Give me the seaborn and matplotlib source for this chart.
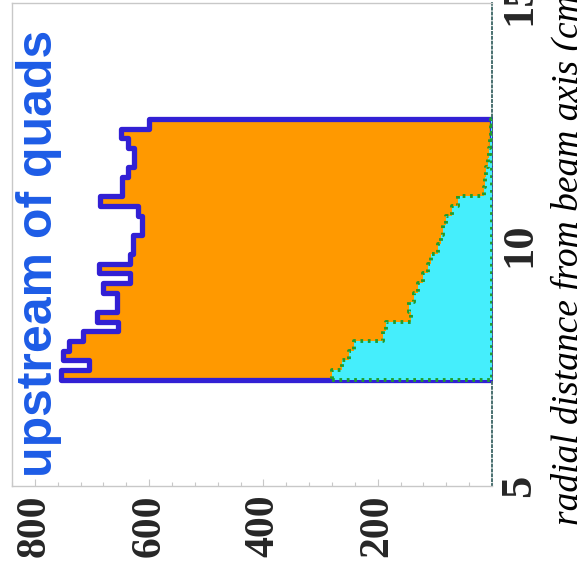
import numpy as np
import pandas as pd
import matplotlib
matplotlib.use("Agg")
import matplotlib.pyplot as plt
from matplotlib.ticker import MultipleLocator
import seaborn as sns

# ---- data ----
bin_edges = [7.2, 7.4, 7.6, 7.8, 8.0, 8.2, 8.4, 8.6, 8.8, 9.0, 9.2, 9.4, 9.6, 9.8,
             10.0, 10.2, 10.4, 10.6, 10.8, 11.0, 11.2, 11.4, 11.6, 11.8, 12.0, 12.2,
             12.4, 12.6]
radial_centers = [7.3, 7.5, 7.7, 7.9, 8.1, 8.3, 8.5, 8.7, 8.9, 9.1, 9.3, 9.5, 9.7,
                  9.9, 10.1, 10.3, 10.5, 10.7, 10.9, 11.1, 11.3, 11.5, 11.7, 11.9,
                  12.1, 12.3, 12.5]
upstream_all = [755, 705, 750, 740, 716, 654, 691, 656, 656, 680, 633, 688, 633,
                628, 628, 612, 612, 619, 686, 647, 647, 637, 626, 626, 637, 650, 600]
upstream_cut = [280, 262, 250, 242, 191, 185, 142, 146, 137, 130, 121, 112, 107,
                95, 90, 86, 80, 70, 60, 14, 12, 10, 7, 5, 3, 2, 1]
count_ticks = [200, 400, 600, 800]
count_labels = ["200", "400", "600", "800"]
radial_ticks = [5, 10, 15]
radial_labels = ["5", "10", "15"]
title_text = "radial distance from beam axis (cm)"
label_text = "upstream of quads"

ORANGE = "#ff9900"
BLUE = "#3220d4"
CYAN = "#45eefc"
GREEN = "#1f9e2c"
TEXT_BLUE = "#1d5ce6"
GRAY = "#c8c8c8"

sns.set_style("white")

W, H = 577, 575
fig = plt.figure(figsize=(W / 100, H / 100), dpi=100)
ax = fig.add_axes([12 / W, 1 - 486 / H, 480 / W, 483 / H])

df = pd.DataFrame({"radial": radial_centers, "all": upstream_all, "cut": upstream_cut})

sns.histplot(data=df, y="radial", weights="all", bins=bin_edges, element="step",
             fill=True, facecolor=ORANGE, edgecolor=BLUE, linewidth=3.8, alpha=1,
             ax=ax, zorder=2)
sns.histplot(data=df, y="radial", weights="cut", bins=bin_edges, element="step",
             fill=True, facecolor=CYAN, edgecolor=GREEN, linewidth=2.8,
             linestyle=(0, (0.7, 1.2)), alpha=1, ax=ax, zorder=3)

ax.set_xlim(840, 0)
ax.set_ylim(5, 15)
ax.set_xlabel("")
ax.set_ylabel("")

# bottom (count) axis
ax.set_xticks(count_ticks)
ax.set_xticklabels(count_labels, rotation=90, fontfamily="Liberation Serif",
                   fontweight="bold", fontsize=30, va="top", ha="center")
ax.xaxis.set_minor_locator(MultipleLocator(40))
ax.tick_params(axis="x", which="major", direction="in", length=5, width=0.8,
               color=GRAY, pad=6, top=False, bottom=True)
ax.tick_params(axis="x", which="minor", direction="in", length=3, width=0.8,
               color=GRAY, top=False, bottom=True)

# right (radial) axis
ax.yaxis.tick_right()
ax.set_yticks(radial_ticks)
ax.set_yticklabels(radial_labels, rotation=90, fontfamily="Liberation Serif",
                   fontweight="bold", fontsize=32, va="center", ha="left")
ax.tick_params(axis="y", which="both", length=0, pad=5, left=False, right=True)

for side in ["top", "left", "bottom"]:
    ax.spines[side].set_color(GRAY)
    ax.spines[side].set_linewidth(1.0)
ax.spines["right"].set_color("#4a7070")
ax.spines["right"].set_linestyle((0, (1, 1.5)))
ax.spines["right"].set_linewidth(1.4)

# texts
fig.text(52 / W, 1 - 477 / H, label_text, rotation=90, rotation_mode="anchor",
         ha="left", va="baseline", color=TEXT_BLUE, fontsize=36,
         fontweight="bold", fontfamily="Liberation Sans")
fig.text(578 / W, 1 - 525 / H, title_text, rotation=90, rotation_mode="anchor",
         ha="left", va="baseline", color="black", fontsize=27,
         fontstyle="italic", fontfamily="Liberation Serif")

fig.savefig("out.png", dpi=100)
